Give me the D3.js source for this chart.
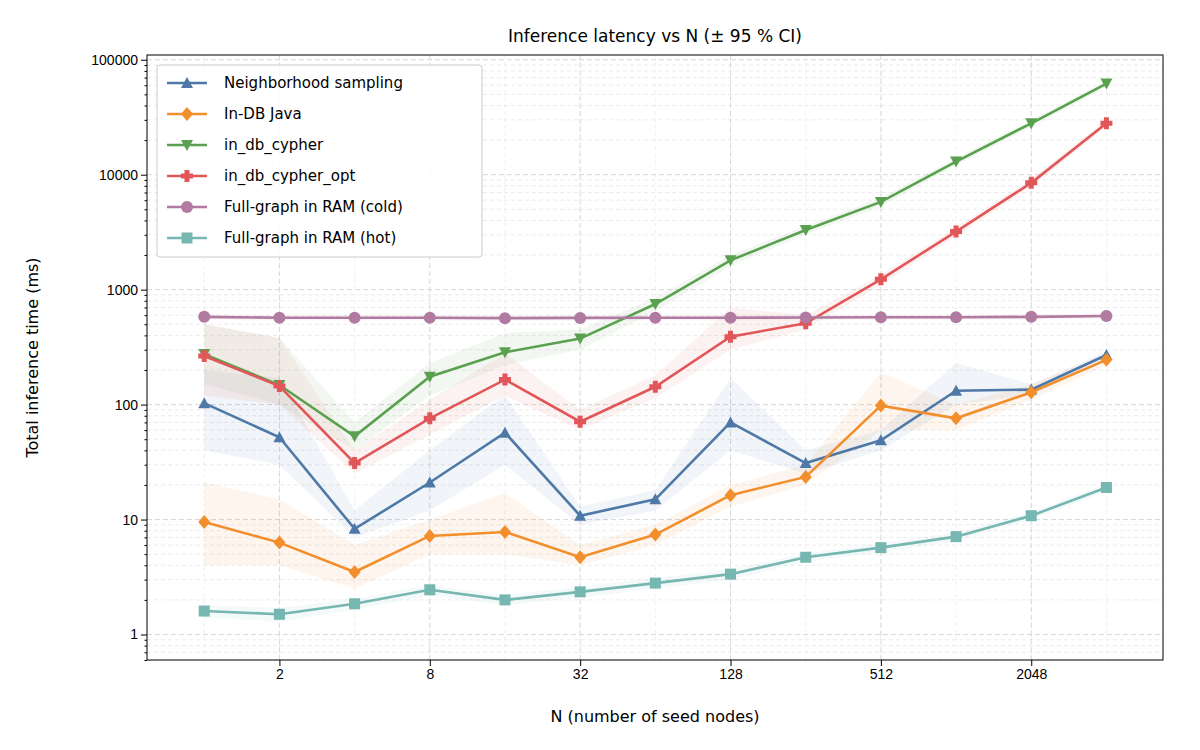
<!DOCTYPE html>
<html><head><meta charset="utf-8">
<script src="https://cdn.jsdelivr.net/npm/d3@7"></script>
<style>body{margin:0;background:#fff;font-family:"DejaVu Sans",sans-serif}</style>
</head><body><div id="chart"></div>
<script>
let nValues = [1,2,4,8,16,32,64,128,256,512,1024,2048,4096]
let seriesNames = ["Neighborhood sampling","In-DB Java","in_db_cypher","in_db_cypher_opt","Full-graph in RAM (cold)","Full-graph in RAM (hot)"]
let colors = ["#4e79a7","#f28e2b","#59a14f","#e15759","#b07aa1","#76b7b2"]
let markers = ["triUp","diamond","triDown","plus","circle","square"]

let sampling = [103,52,8.3,21,57,10.8,15,70,31,49,132,135,270]
let samplingLo = [40,30,7,12,30,9,12,40,25,40,100,120,250]
let samplingHi = [200,170,12,40,120,13,18,170,40,60,230,150,290]
let java = [9.5,6.3,3.5,7.2,7.8,4.7,7.4,16.3,23.5,98,76,128,245]
let javaLo = [4,4,2.5,5,5,4,6,13,20,60,60,110,220]
let javaHi = [21,15,6,10,17,6,9,20,30,190,100,150,270]
let cypher = [275,148,53,175,285,375,750,1800,3300,5800,13000,28000,62000]
let cypherLo = [150,100,40,120,220,300,650,1600,3000,5300,12000,26000,58000]
let cypherHi = [500,380,70,230,420,450,850,2000,3600,6300,14000,30000,66000]
let cypherOpt = [265,145,31,76,165,71,143,390,510,1230,3200,8500,28000]
let cypherOptLo = [120,100,25,55,120,60,115,300,450,1100,2900,7800,26000]
let cypherOptHi = [500,380,40,110,280,90,180,700,600,1350,3500,9200,30000]
let cold = [580,570,570,570,565,568,570,570,572,575,575,580,590]
let coldLo = [550,540,540,540,535,540,540,540,545,545,545,550,560]
let coldHi = [610,600,600,600,595,600,600,600,600,605,605,610,620]
let hot = [1.6,1.5,1.85,2.45,2.0,2.35,2.8,3.35,4.7,5.7,7.1,10.8,19]
let hotLo = [1.4,1.3,1.65,2.2,1.8,2.1,2.5,3.0,4.3,5.2,6.5,10,17.5]
let hotHi = [1.8,1.7,2.05,2.7,2.2,2.6,3.1,3.7,5.1,6.2,7.7,11.6,20.5]

let allVals = [sampling,java,cypher,cypherOpt,cold,hot]
let allLo = [samplingLo,javaLo,cypherLo,cypherOptLo,coldLo,hotLo]
let allHi = [samplingHi,javaHi,cypherHi,cypherOptHi,coldHi,hotHi]
let xTicks = [2,8,32,128,512,2048]
let yTicks = [1,10,100,1000,10000,100000]

let svg = d3.select("#chart").append("svg").attr("width",1200).attr("height",750)
let pLeft = 147, pRight = 1163, pTop = 55, pBottom = 660

let x = d3.scaleLog().base(2).domain([0.59,6900]).range([pLeft,pRight])
let y = d3.scaleLog().domain([0.6,110000]).range([pBottom,pTop])

// grid: minor then major
let minorY = []
for (let e = -1; e < 6; e++) for (let k = 2; k < 10; k++) {
  let v = k*Math.pow(10,e); if (v > 0.6 && v < 110000) minorY.push(v)
}
svg.selectAll(".gy2").data(minorY).enter().append("line")
  .attr("x1",pLeft).attr("x2",pRight).attr("y1",d=>y(d)).attr("y2",d=>y(d))
  .attr("stroke","#e6e6e6").attr("stroke-width",0.8).attr("stroke-dasharray","4,3")
svg.selectAll(".gx2").data(nValues).enter().append("line")
  .attr("y1",pTop).attr("y2",pBottom).attr("x1",d=>x(d)).attr("x2",d=>x(d))
  .attr("stroke","#ececec").attr("stroke-width",0.8).attr("stroke-dasharray","4,3")
svg.selectAll(".gy").data(yTicks).enter().append("line")
  .attr("x1",pLeft).attr("x2",pRight).attr("y1",d=>y(d)).attr("y2",d=>y(d))
  .attr("stroke","#d8d8d8").attr("stroke-dasharray","5,3")
svg.selectAll(".gx").data(xTicks).enter().append("line")
  .attr("y1",pTop).attr("y2",pBottom).attr("x1",d=>x(d)).attr("x2",d=>x(d))
  .attr("stroke","#d8d8d8").attr("stroke-dasharray","5,3")

// bands
let area = d3.area().x(d=>x(d.n)).y0(d=>y(d.lo)).y1(d=>y(d.hi))
allVals.forEach(function(vals,i){
  let pts = nValues.map((n,j)=>({n:n,lo:allLo[i][j],hi:allHi[i][j]}))
  svg.append("path").attr("d",area(pts)).attr("fill",colors[i]).attr("opacity",0.08)
})

let line = d3.line().x(d=>x(d.n)).y(d=>y(d.v))
function marker(g,type,color){
  let s = 6
  if (type=="circle") g.append("circle").attr("r",s).attr("fill",color)
  else if (type=="square") g.append("rect").attr("x",-s+0.5).attr("y",-s+0.5).attr("width",2*s-1).attr("height",2*s-1).attr("fill",color)
  else if (type=="diamond") g.append("path").attr("d",`M0,${-s-1}L${s},0L0,${s+1}L${-s},0Z`).attr("fill",color)
  else if (type=="triUp") g.append("path").attr("d",`M0,${-s}L${s},${s-1}L${-s},${s-1}Z`).attr("fill",color)
  else if (type=="triDown") g.append("path").attr("d",`M0,${s}L${s},${-s+1}L${-s},${-s+1}Z`).attr("fill",color)
  else g.append("path").attr("d",`M-2.5,-6H2.5V-2.5H6V2.5H2.5V6H-2.5V2.5H-6V-2.5H-2.5Z`).attr("fill",color)
}
allVals.forEach(function(vals,i){
  let pts = nValues.map((n,j)=>({n:n,v:vals[j]}))
  svg.append("path").attr("d",line(pts)).attr("fill","none").attr("stroke",colors[i]).attr("stroke-width",2.6)
  pts.forEach(function(p){
    let g = svg.append("g").attr("transform",`translate(${x(p.n)},${y(p.v)})`)
    marker(g,markers[i],colors[i])
  })
})

// axes
svg.append("rect").attr("x",pLeft).attr("y",pTop).attr("width",pRight-pLeft).attr("height",pBottom-pTop)
  .attr("fill","none").attr("stroke","#000")
let xAxis = svg.append("g").attr("transform",`translate(0,${pBottom})`)
  .call(d3.axisBottom(x).tickValues(xTicks).tickFormat(d3.format("d")).tickSizeOuter(0))
let yAxis = svg.append("g").attr("transform",`translate(${pLeft},0)`)
  .call(d3.axisLeft(y).tickValues(yTicks).tickFormat(d3.format("d")).tickSizeOuter(0))
svg.append("g").attr("transform",`translate(${pLeft},0)`)
  .call(d3.axisLeft(y).tickValues(minorY).tickFormat("").tickSize(2.5).tickSizeOuter(0))
  .select(".domain").remove()
;[xAxis,yAxis].forEach(a=>{a.selectAll("text").attr("font-size",14).attr("fill","#000"); a.select(".domain").remove()})

svg.append("text").attr("x",(pLeft+pRight)/2).attr("y",42).attr("text-anchor","middle")
  .attr("font-size",17).text("Inference latency vs N (± 95 % CI)")
svg.append("text").attr("x",(pLeft+pRight)/2).attr("y",722).attr("text-anchor","middle")
  .attr("font-size",16).text("N (number of seed nodes)")
svg.append("text").attr("transform",`translate(38,${(pTop+pBottom)/2}) rotate(-90)`).attr("text-anchor","middle")
  .attr("font-size",16).text("Total inference time (ms)")

// legend
let lg = svg.append("g").attr("transform","translate(157,65)")
lg.append("rect").attr("width",325).attr("height",192).attr("rx",3).attr("fill","#fff").attr("fill-opacity",0.85).attr("stroke","#ccc")
seriesNames.forEach(function(name,i){
  let yy = 18 + i*31
  lg.append("line").attr("x1",10).attr("x2",50).attr("y1",yy).attr("y2",yy).attr("stroke",colors[i]).attr("stroke-width",2.6)
  marker(lg.append("g").attr("transform",`translate(30,${yy})`),markers[i],colors[i])
  lg.append("text").attr("x",67).attr("y",yy+5).attr("font-size",15).text(name)
})
</script></body></html>
